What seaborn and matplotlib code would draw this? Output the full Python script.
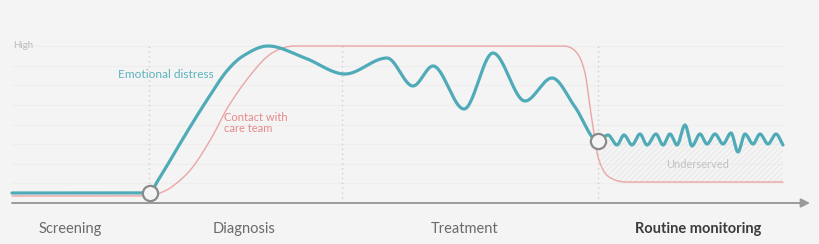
import numpy as np
import pandas as pd
import matplotlib
matplotlib.use("Agg")
import matplotlib.pyplot as plt
import seaborn as sns

# ---- data (time position, level above baseline; "High" = 157) ----
teal_x = [12, 150, 157, 168, 187, 207, 226, 243, 268, 305, 345, 387, 413, 433, 464, 493, 525, 552, 575, 598,
          608, 617, 624, 632, 640, 647, 656, 663, 670, 677, 685, 692, 700, 707, 715, 723, 731, 738, 745,
          753, 760, 768, 776, 783]
teal_h = [10, 10, 21, 39, 71, 103, 131, 147, 157, 145, 129, 145, 117, 137, 94, 150, 102, 125, 96, 62,
          68, 58, 68, 58, 69, 58, 69, 58, 69, 58, 78, 57, 69, 59, 69, 59, 70, 51, 69,
          59, 69, 59, 69, 58]

red_x = [12, 150, 158, 173, 192, 212, 228, 252, 272, 295, 563, 577, 585, 590, 595, 598, 605, 615, 627, 783]
red_h = [7, 7, 9, 17, 35, 66, 96, 130, 150, 157, 157, 150, 130, 96, 63, 46, 30, 23, 21, 21]

high_level = 157
phase_bounds = [149, 342, 598]
phase_labels = ["Screening", "Diagnosis", "Treatment", "Routine monitoring"]
phase_centers = [70, 244, 465, 698]
circle_x = [150, 598]
circle_h = [10, 62]

TEAL = "#4fabb8"
RED = "#eba5a5"
BG = "#f4f4f4"


def smooth(x, y, xs):
    """Monotone cubic Hermite through the knots (flat at extrema, central slopes elsewhere)."""
    x = np.asarray(x, float)
    y = np.asarray(y, float)
    h = np.diff(x)
    d = np.diff(y) / h
    m = np.zeros_like(y)
    for k in range(1, len(x) - 1):
        if d[k - 1] * d[k] <= 0:
            m[k] = 0.0
        else:
            c = (y[k + 1] - y[k - 1]) / (x[k + 1] - x[k - 1])
            lim = 3 * min(abs(d[k - 1]), abs(d[k]))
            m[k] = np.sign(c) * min(abs(c), lim)
    m[0] = d[0]
    m[-1] = d[-1]
    xs = np.asarray(xs, float)
    idx = np.clip(np.searchsorted(x, xs) - 1, 0, len(x) - 2)
    t = (xs - x[idx]) / h[idx]
    h00 = 2 * t**3 - 3 * t**2 + 1
    h10 = t**3 - 2 * t**2 + t
    h01 = -2 * t**3 + 3 * t**2
    h11 = t**3 - t**2
    return h00 * y[idx] + h10 * h[idx] * m[idx] + h01 * y[idx + 1] + h11 * h[idx] * m[idx + 1]


sns.set_theme(style="white")
plt.rcParams["font.family"] = ["Lato", "DejaVu Sans"]
plt.rcParams["hatch.linewidth"] = 0.6

fig = plt.figure(figsize=(8.2, 2.44), dpi=100, facecolor=BG)
ax = fig.add_axes([0, 0, 1, 1])
ax.set_facecolor(BG)
ax.set_xlim(0, 820)
ax.set_ylim(-41, 203)
ax.set_axis_off()

# faint horizontal guides
for lv in np.linspace(0, high_level, 9)[1:]:
    ax.plot([12, 783], [lv, lv], color="#eeeeee", lw=0.8, zorder=0)

# phase separators
for bx in phase_bounds:
    ax.plot([bx, bx], [0, high_level], color="#cfcfcf", lw=1, ls=(0, (1, 2.5)), zorder=1)

xs_t = np.linspace(teal_x[0], teal_x[-1], 2000)
xs_r = np.linspace(red_x[0], red_x[-1], 2000)
teal_df = pd.DataFrame({"t": xs_t, "level": smooth(teal_x, teal_h, xs_t)})
red_df = pd.DataFrame({"t": xs_r, "level": smooth(red_x, red_h, xs_r)})

# underserved hatched gap
xs_g = np.linspace(phase_bounds[2], teal_x[-1], 400)
ax.fill_between(xs_g, smooth(red_x, red_h, xs_g), smooth(teal_x, teal_h, xs_g),
                facecolor="none", edgecolor="#e6e6e6", hatch="//////", lw=0, zorder=1)

sns.lineplot(data=red_df, x="t", y="level", ax=ax, color=RED, lw=1.0, estimator=None, zorder=2)
sns.lineplot(data=teal_df, x="t", y="level", ax=ax, color=TEAL, lw=2.3, estimator=None, zorder=3)

sns.scatterplot(x=circle_x, y=circle_h, ax=ax, s=120, facecolor=BG, edgecolor="#8a8a8a",
                linewidth=1.6, zorder=5)

# baseline arrow
ax.annotate("", xy=(810, 0), xytext=(12, 0),
            arrowprops=dict(arrowstyle="-|>", color="#9a9a9a", lw=1.4, mutation_scale=13,
                            shrinkA=0, shrinkB=0), zorder=4)

ax.text(13, high_level, "High", fontsize=7, color="#bcbcbc", va="center", ha="left")
ax.text(118, 128, "Emotional distress", fontsize=8.6, color="#5cb2be", va="center", ha="left")
ax.text(224, 80, "Contact with\ncare team", fontsize=8, color="#e48a8a", va="center", ha="left",
        linespacing=1.0)
ax.text(698, 39, "Underserved", fontsize=8, color="#c2c2c2", va="center", ha="center")

for lab, cx in zip(phase_labels, phase_centers):
    bold = lab == "Routine monitoring"
    ax.text(cx, -26, lab, fontsize=10.5, ha="center", va="center",
            color="#3c3c3c" if bold else "#6a6a6a", fontweight="bold" if bold else "normal")

fig.savefig("out.png", dpi=100, facecolor=BG)
